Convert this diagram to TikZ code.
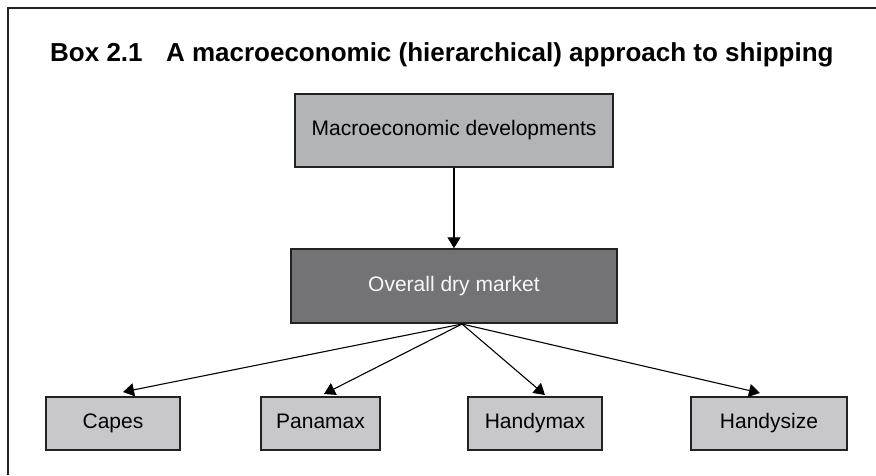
\documentclass[tikz,border=0pt]{standalone}
\usepackage{fontspec}
\setmainfont{Liberation Sans}
\usetikzlibrary{arrows.meta}
\definecolor{topfill}{HTML}{B2B4B7}
\definecolor{midfill}{HTML}{737375}
\definecolor{lowfill}{HTML}{C8C8CA}
\definecolor{edge}{HTML}{222222}
\begin{document}
\begin{tikzpicture}[x=1pt,y=-1pt,
  boxst/.style={draw=edge,line width=1.4pt,inner sep=0pt,text height=15pt,text depth=4.5pt,font=\fontsize{21}{25}\selectfont},
  arr/.style={draw=black,line width=1.1pt,-{Triangle[length=11pt,width=13pt]}}]
\useasboundingbox (0,0) rectangle (876,475);
\draw[line width=1.4pt,color=edge] (8,475) -- (8,8) -- (876,8);
\node[anchor=base west,inner sep=0pt,font=\bfseries\fontsize{26}{30}\selectfont] (title) at (50,61) {Box 2.1\hspace{0.9em}A macroeconomic (hierarchical) approach to shipping};
\node[boxst,fill=topfill,minimum width=318pt,minimum height=73pt] (top) at (454,130.5) {Macroeconomic developments};
\node[boxst,fill=midfill,text=white!94!gray,minimum width=326pt,minimum height=74pt] (om) at (454,286) {Overall dry market};
\node[boxst,fill=lowfill,minimum width=134pt,minimum height=53pt] (capes) at (113,423.5) {Capes};
\node[boxst,fill=lowfill,minimum width=119pt,minimum height=53pt] (panamax) at (320.5,423.5) {Panamax};
\node[boxst,fill=lowfill,minimum width=134pt,minimum height=53pt] (handymax) at (535,423.5) {Handymax};
\node[boxst,fill=lowfill,minimum width=156pt,minimum height=53pt] (handysize) at (769,423.5) {Handysize};
\coordinate (src) at (462,324);
\coordinate (tcapes) at (123,392);
\coordinate (tpanamax) at (324,394);
\coordinate (thandymax) at (545,395);
\coordinate (thandysize) at (760,393);
\draw[arr] (top) -- (om);
\draw[arr] (src) -- (tcapes);
\draw[arr] (src) -- (tpanamax);
\draw[arr] (src) -- (thandymax);
\draw[arr] (src) -- (thandysize);
\end{tikzpicture}
\end{document}
